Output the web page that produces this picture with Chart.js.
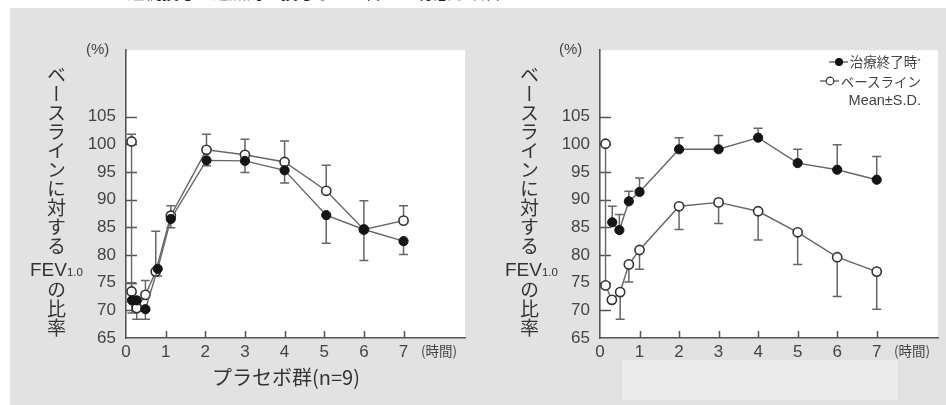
<!DOCTYPE html>
<html lang="ja">
<head>
<meta charset="utf-8">
<script src="https://cdn.jsdelivr.net/npm/chart.js@4.4.1/dist/chart.umd.min.js"></script>
<style>
  html, body { margin: 0; padding: 0; background: #fff; }
  body { width: 946px; height: 405px; position: relative; overflow: hidden; color: #333;
         font-family: "Liberation Sans", Arial, sans-serif; }
  .jp { font-family: "Noto Sans CJK JP", sans-serif; }
  #caption { position: absolute; left: 0; top: -21px; font-size: 17px; white-space: nowrap; color: #222; }
  #backdrop { position: absolute; left: 10px; top: 8px; width: 936px; height: 397px; background: #e2e2e2; }
  #blank { position: absolute; left: 622px; top: 360px; width: 276px; height: 40px; background: #ebebeb; }
  canvas { position: absolute; }
  .abs { position: absolute; white-space: nowrap; }
  .vert { writing-mode: vertical-rl; font-size: 19px; line-height: 19px; color: #333; }
  .fev { font-size: 19px; color: #333; line-height: 19px; }
  .fev small { font-size: 11.5px; }
  .unit { font-size: 15px; color: #444; }
  #legend { position: absolute; right: 25px; top: 52px; font-size: 13.5px; line-height: 19.5px; color: #444; text-align: right; }
  #legend div { display: flex; justify-content: flex-end; align-items: center; height: 19.5px; }
  #legend svg { margin-right: 2px; }
  #legend sup { font-size: 8px; line-height: 0; vertical-align: 6px; }
</style>
</head>
<body>
<div id="caption" class="jp">ン　　　　　　（連続投与（追加的に投与した）群での有意な改善がみられた。</div>
<div id="backdrop"></div>
<div id="blank"></div>
<canvas id="placeboChart" width="440" height="340" style="left:40px; top:30px;"></canvas>
<canvas id="treatChart" width="432" height="340" style="left:514px; top:30px;"></canvas>

<div class="abs unit" style="left:86px; top:40px;">(%)</div>
<div class="abs unit" style="left:559px; top:40px;">(%)</div>
<div class="abs unit jp" style="left:421px; top:340px; font-size:13.5px;">(時間)</div>
<div class="abs unit jp" style="left:894px; top:340px; font-size:13.5px;">(時間)</div>

<div class="abs vert jp" style="left:47px; top:65px;">ベースラインに対する</div>
<div class="abs fev" style="left:30px; top:260px;">FEV<small>1.0</small></div>
<div class="abs vert jp" style="left:47px; top:280px;">の比率</div>

<div class="abs vert jp" style="left:520px; top:65px;">ベースラインに対する</div>
<div class="abs fev" style="left:505px; top:260px;">FEV<small>1.0</small></div>
<div class="abs vert jp" style="left:520px; top:280px;">の比率</div>

<div class="abs jp" style="left:212px; top:362px; font-size:20px; color:#333;">プラセボ群(n=9)</div>

<div id="legend" class="jp">
  <div><svg width="19" height="10"><line x1="0" y1="5" x2="19" y2="5" stroke="#555" stroke-width="1.3"/><circle cx="10" cy="5" r="4" fill="#111"/></svg>治療終了時<sup>*</sup></div>
  <div><svg width="19" height="10"><line x1="0" y1="5" x2="19" y2="5" stroke="#555" stroke-width="1.3"/><circle cx="10" cy="5" r="3.8" fill="#fff" stroke="#333" stroke-width="1.2"/></svg>ベースライン</div>
  <div style="font-family:'Liberation Sans', Arial, sans-serif; font-size:14.5px;">Mean±S.D.</div>
</div>

<script>
// 軸の目盛
const hourTicks = [0, 1, 2, 3, 4, 5, 6, 7];
const percentTicks = [65, 70, 75, 80, 85, 90, 95, 100, 105];

// プラセボ群 — ベースライン（白丸、上側S.D.）
const placeboBaseX = [0.14, 0.14, 0.27, 0.49, 0.75, 1.13, 2.03, 3, 4, 5.05, 6, 7];
const placeboBaseY = [100.5, 73.4, 70.4, 72.8, 77.0, 87.1, 99.0, 98.1, 96.8, 91.6, 84.6, 86.2];
const placeboBaseUpper = [101.8, 75.0, 72.0, 75.4, 84.3, 88.9, 101.8, 100.9, 100.6, 96.2, 89.8, 88.9];

// プラセボ群 — 治療終了時（黒丸、下側S.D.）
const placeboEndX = [0.15, 0.27, 0.49, 0.8, 1.13, 2.03, 3, 4, 5.05, 6, 7];
const placeboEndY = [71.8, 71.8, 70.2, 77.5, 86.5, 97.1, 97.0, 95.3, 87.2, 84.6, 82.5];
const placeboEndLower = [69.5, 68.4, 68.4, 76.2, 84.9, 96.1, 94.9, 93.0, 82.1, 79.0, 80.1];

// 投与群 — ベースライン（白丸、下側S.D.）
const treatBaseX = [0.14, 0.14, 0.3, 0.51, 0.73, 1.0, 2, 3, 4, 5, 6, 7];
const treatBaseY = [100.1, 74.5, 71.9, 73.3, 78.3, 80.9, 88.8, 89.5, 87.9, 84.1, 79.6, 77.0];
const treatBaseLower = [null, null, null, 68.4, 75.1, 77.4, 84.6, 85.7, 82.7, 78.3, 72.5, 70.2];

// 投与群 — 治療終了時（黒丸、上側S.D.）
const treatEndX = [0.31, 0.49, 0.73, 1.0, 2, 3, 4, 5, 6, 7];
const treatEndY = [85.9, 84.5, 89.7, 91.4, 99.1, 99.1, 101.2, 96.6, 95.4, 93.6];
const treatEndUpper = [88.8, 87.3, 91.5, 93.9, 101.2, 101.6, 102.9, 99.1, 99.9, 97.8];

function toPoints(xs, ys) {
  return xs.map((x, i) => ({ x, y: ys[i] }));
}

// 描画領域を白く塗る
const whiteArea = {
  id: "whiteArea",
  beforeDraw(chart) {
    const { ctx, chartArea: a } = chart;
    ctx.save();
    ctx.fillStyle = "#fff";
    ctx.fillRect(a.left, a.top, a.right - a.left, a.bottom - a.top);
    ctx.restore();
  }
};

// 内向きの目盛線とS.D.のエラーバー
const innerTicksAndErrors = {
  id: "innerTicksAndErrors",
  beforeDatasetsDraw(chart) {
    const { ctx, chartArea: a, scales } = chart;
    ctx.save();
    ctx.strokeStyle = "#555";
    ctx.lineWidth = 1.5;
    ctx.beginPath();
    percentTicks.slice(1).forEach((v) => {
      const y = Math.round(scales.y.getPixelForValue(v)) + 0.5;
      ctx.moveTo(a.left, y);
      ctx.lineTo(a.left + 11, y);
    });
    hourTicks.slice(1).forEach((v) => {
      const x = Math.round(scales.x.getPixelForValue(v)) + 0.5;
      ctx.moveTo(x, a.bottom);
      ctx.lineTo(x, a.bottom - 7);
    });
    ctx.stroke();

    ctx.strokeStyle = "#666";
    ctx.lineWidth = 1.5;
    chart.data.datasets.forEach((ds, di) => {
      if (!ds.errorEnds) return;
      const meta = chart.getDatasetMeta(di);
      meta.data.forEach((pt, i) => {
        const end = ds.errorEnds[i];
        if (end === null || end === undefined) return;
        const yEnd = scales.y.getPixelForValue(end);
        ctx.beginPath();
        ctx.moveTo(pt.x, pt.y);
        ctx.lineTo(pt.x, yEnd);
        ctx.moveTo(pt.x - 4.5, yEnd);
        ctx.lineTo(pt.x + 4.5, yEnd);
        ctx.stroke();
      });
    });
    ctx.restore();
  }
};

function filledSeries(xs, ys, ends) {
  return {
    data: toPoints(xs, ys),
    errorEnds: ends,
    borderColor: "#666",
    borderWidth: 1.4,
    pointRadius: 4.6,
    pointBackgroundColor: "#151515",
    pointBorderColor: "#151515",
    pointBorderWidth: 1,
    tension: 0,
    fill: false
  };
}

function openSeries(xs, ys, ends) {
  return {
    data: toPoints(xs, ys),
    errorEnds: ends,
    borderColor: "#666",
    borderWidth: 1.4,
    pointRadius: 4.6,
    pointBackgroundColor: "#fff",
    pointBorderColor: "#333",
    pointBorderWidth: 1.6,
    tension: 0,
    fill: false
  };
}

const tickFont = { family: "'Liberation Sans', Arial, sans-serif", size: 17 };

function buildChart(canvas, datasets, padRight) {
  return new Chart(canvas.getContext("2d"), {
    type: "line",
    data: { datasets },
    options: {
      responsive: false,
      animation: false,
      devicePixelRatio: 1,
      layout: { padding: { top: 12, right: padRight, left: 0, bottom: 0 } },
      plugins: { legend: { display: false }, tooltip: { enabled: false } },
      scales: {
        x: {
          type: "linear",
          min: 0,
          max: 8.55,
          afterBuildTicks: (s) => { s.ticks = hourTicks.map((v) => ({ value: v })); },
          afterFit: (s) => { s.height = 32; },
          grid: { display: false, drawTicks: false },
          border: { display: true, color: "#555", width: 1.6 },
          ticks: { padding: 4, color: "#444", font: tickFont, maxRotation: 0, autoSkip: false }
        },
        y: {
          type: "linear",
          min: 65,
          max: 117,
          afterBuildTicks: (s) => { s.ticks = percentTicks.map((v) => ({ value: v })); },
          afterFit: (s) => { s.width = 86; },
          grid: { display: false, drawTicks: false },
          border: { display: true, color: "#555", width: 1.6 },
          ticks: { padding: 10, color: "#444", font: tickFont }
        }
      }
    },
    plugins: [whiteArea, innerTicksAndErrors]
  });
}

buildChart(document.getElementById("placeboChart"), [
  filledSeries(placeboEndX, placeboEndY, placeboEndLower),
  openSeries(placeboBaseX, placeboBaseY, placeboBaseUpper)
], 15);

buildChart(document.getElementById("treatChart"), [
  filledSeries(treatEndX, treatEndY, treatEndUpper),
  openSeries(treatBaseX, treatBaseY, treatBaseLower)
], 8);
</script>
</body>
</html>
